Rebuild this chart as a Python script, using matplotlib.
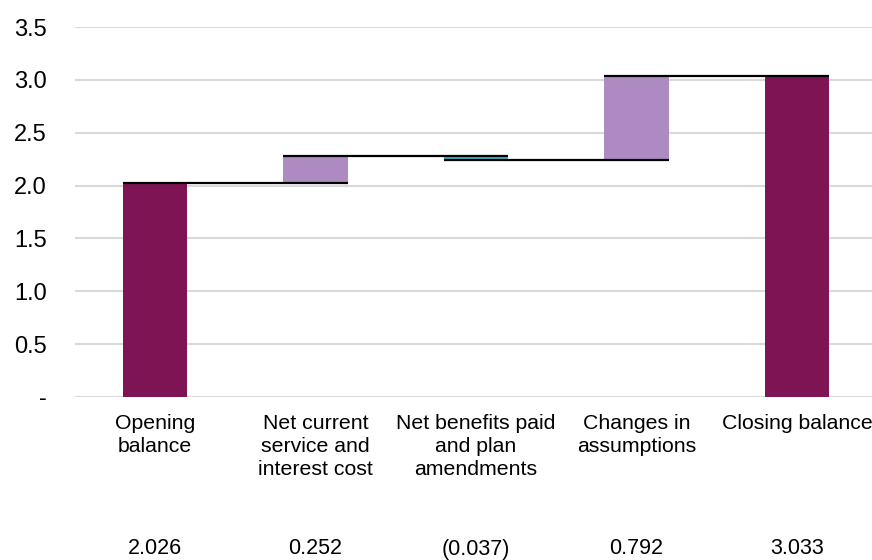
import numpy as np
import matplotlib.pyplot as plt

# Data
categories = ["Opening\nbalance", "Net current\nservice and\ninterest cost",
              "Net benefits paid\nand plan\namendments", "Changes in\nassumptions",
              "Closing balance"]
values = [2.026, 0.252, -0.037, 0.792, 3.033]
value_labels = ["2.026", "0.252", "(0.037)", "0.792", "3.033"]
kinds = ["total", "step", "step", "step", "total"]

dark = "#7F1454"
light = "#AD8BC2"
neg = "#4BACC6"

plt.rcParams['font.family'] = ['Liberation Sans', 'DejaVu Sans']

fig = plt.figure(figsize=(8.72, 5.6), dpi=100)
ax = fig.add_axes([74.75/872, 163/560, 802.5/872, 370/560])

x = np.arange(len(categories))
w = 0.4

# bottoms and tops of each bar
level = 0.0
bottoms, heights, colors, ends = [], [], [], []
for v, k in zip(values, kinds):
    if k == "total":
        bottoms.append(0)
        heights.append(v)
        colors.append(dark)
        level = v
    else:
        bottoms.append(min(level, level + v))
        heights.append(abs(v))
        colors.append(light if v >= 0 else neg)
        level = level + v
    ends.append(level)

ax.bar(x, heights, bottom=bottoms, width=w, color=colors, zorder=2)

# connector lines
for i in range(len(x) - 1):
    ax.plot([x[i] - w/2, x[i+1] + w/2], [ends[i], ends[i]], color="black",
            lw=1.6, zorder=3, solid_capstyle="butt")

ax.set_ylim(0, 3.5)
ax.set_xlim(-0.5, len(x) - 0.5)
ax.set_yticks(np.arange(0, 3.51, 0.5))
ax.set_yticklabels(["-"] + [f"{t:.1f}" for t in np.arange(0.5, 3.51, 0.5)])
ax.yaxis.grid(True, color="#D9D9D9", lw=1.5, zorder=0)
ax.set_axisbelow(True)
for s in ax.spines.values():
    s.set_visible(False)
ax.tick_params(axis="y", length=0, pad=20, labelsize=17, colors="black")
ax.tick_params(axis="x", length=0, pad=12, labelsize=15.3)
ax.set_xticks(x)
ax.set_xticklabels(categories, linespacing=1.27)

# value row under the chart
for xi, lab in zip(x, value_labels):
    ax.text(xi, -(549 - 397) / 370, lab, transform=ax.get_xaxis_transform(),
            ha="center", va="center", fontsize=15.5)

fig.savefig("out.png", dpi=100)
